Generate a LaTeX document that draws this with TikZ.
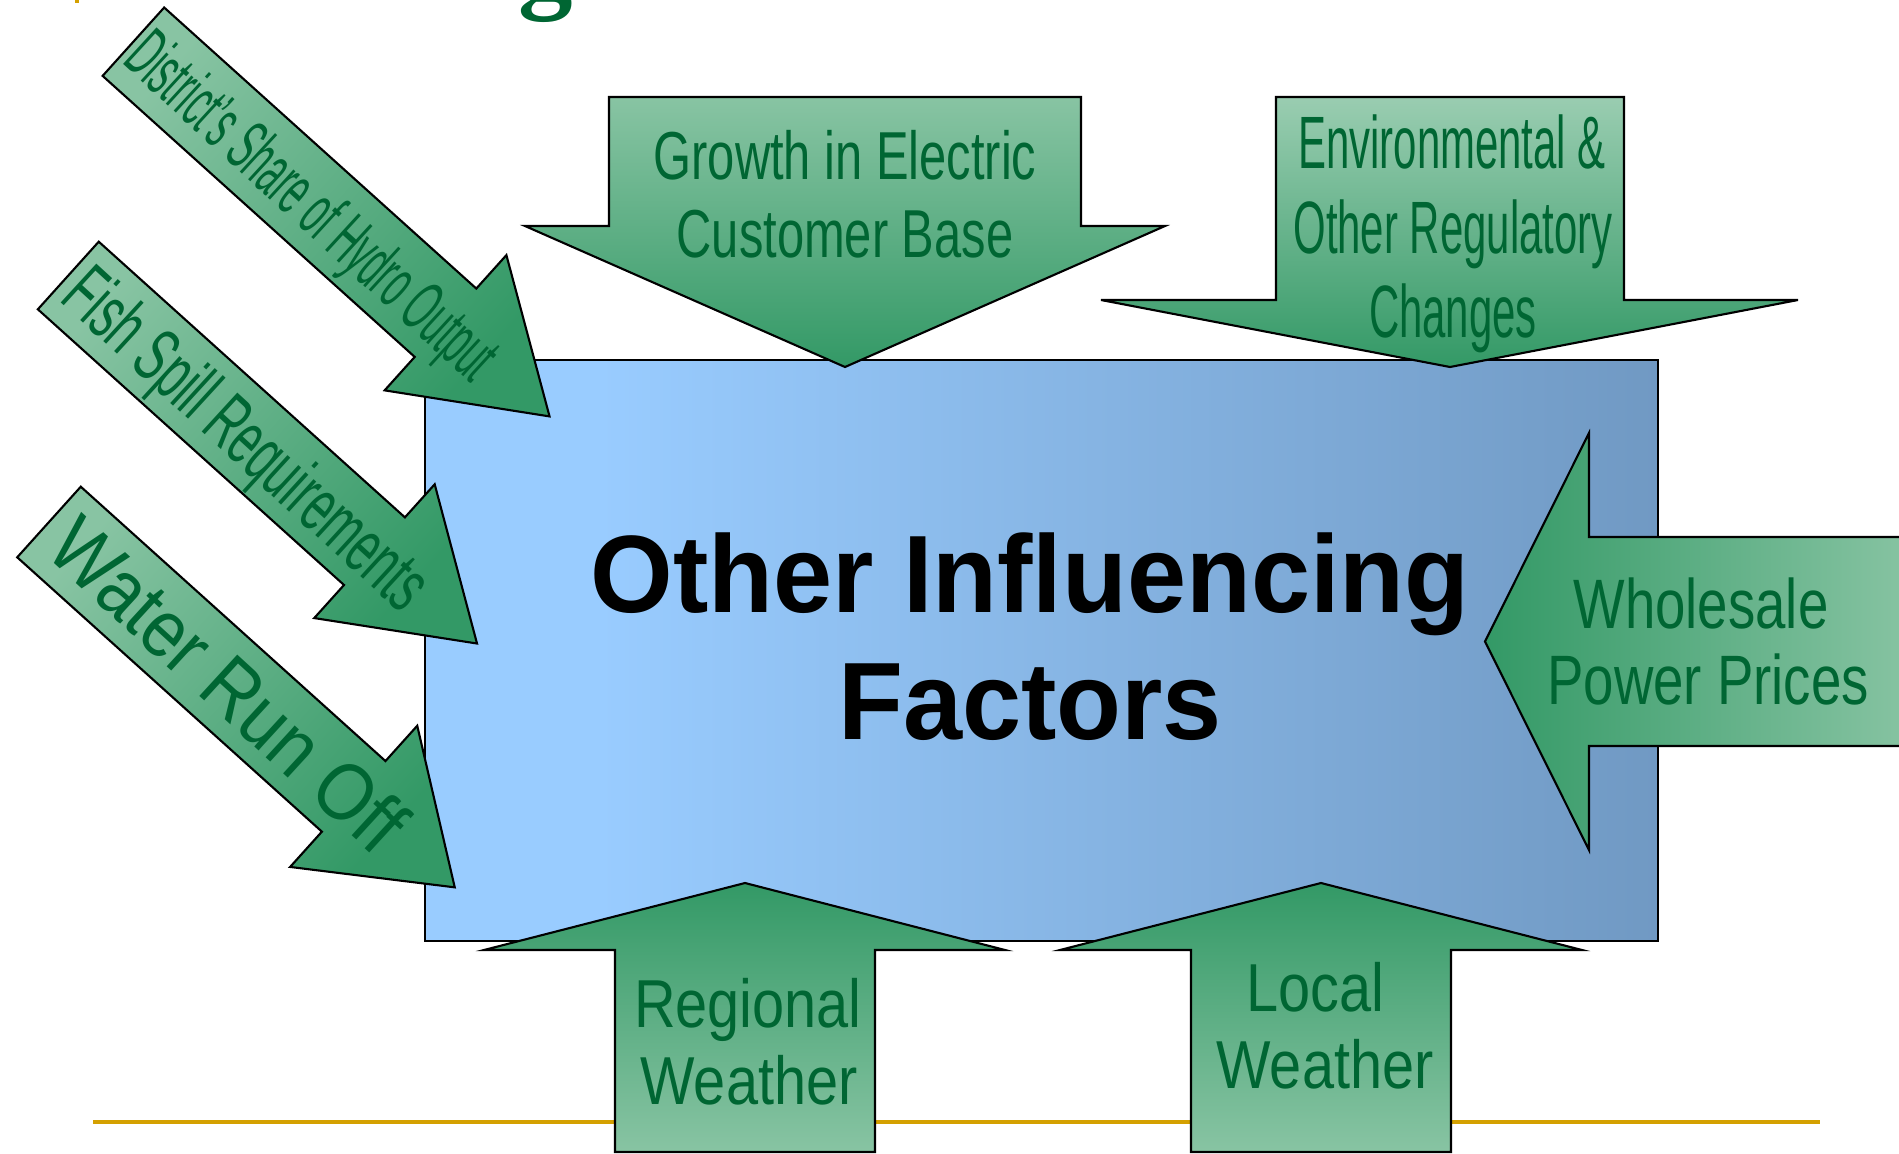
\documentclass[tikz,border=0pt]{standalone}
\usepackage{fontspec}
\setmainfont{Liberation Sans}
\newfontfamily\titleserif{Liberation Serif}
\usepackage{graphicx}
\definecolor{txtgreen}{RGB}{0,102,51}
\definecolor{arlight}{RGB}{136,196,163}
\definecolor{ardark}{RGB}{51,153,102}
\definecolor{goldline}{RGB}{212,160,0}
\pgfdeclarehorizontalshading{boxshade}{100bp}{rgb(0bp)=(0.6,0.8,1); rgb(32bp)=(0.6,0.8,1); rgb(75bp)=(0.44,0.6,0.765); rgb(100bp)=(0.44,0.6,0.765)}
\tikzset{
  arrowshape/.style={draw=black, line width=0.6pt, line join=miter},
  lbl/.style={text=txtgreen, inner sep=0pt, anchor=base},
  diaglbl/.style={text=txtgreen, inner sep=0pt, anchor=base, rotate=-42.5},
  diagshade/.style={top color=arlight, bottom color=ardark, shading angle=48},
}
\begin{document}
\begin{tikzpicture}[x=0.01cm, y=-0.01cm]
\useasboundingbox (0,0) rectangle (1899,1154);
\clip (0,0) rectangle (1899,1154);

% title remnants
\fill[goldline] (75,0) rectangle (79,3);
\node[anchor=base, text=txtgreen, inner sep=0pt, font=\titleserif\bfseries\fontsize{31}{36}\selectfont] (tg) at (546,-2) {g};

% central box
\shade[shading=boxshade, draw=black, line width=0.6pt] (425,360) rectangle (1658,941);
\node[anchor=base, inner sep=0pt, font=\bfseries\fontsize{31.3}{36}\selectfont] (m1) at (1030,612) {\scalebox{0.965}[1]{Other Influencing}};
\node[anchor=base, inner sep=0pt, font=\bfseries\fontsize{31.3}{36}\selectfont] (m2) at (1030,739) {\scalebox{0.965}[1]{Factors}};

% gold rule
\draw[goldline, line width=1.1pt] (93,1122) -- (1820,1122);

% Growth arrow (down)
\shade[arrowshape, top color=arlight, bottom color=ardark]
  (609,97) -- (1081,97) -- (1081,226) -- (1165,226) -- (845,367) -- (525,226) -- (609,226) -- cycle;
\node[lbl, font=\fontsize{19.3}{22}\selectfont] (ga) at (845,179) {\scalebox{0.72}[1]{Growth in Electric}};
\node[lbl, font=\fontsize{19.3}{22}\selectfont] (gb) at (845,257) {\scalebox{0.72}[1]{Customer Base}};

% Environmental arrow (down)
\shade[arrowshape, top color=arlight!85!white, bottom color=ardark]
  (1276,97) -- (1624,97) -- (1624,300) -- (1798,300) -- (1450,367) -- (1101,300) -- (1276,300) -- cycle;
\node[lbl, font=\fontsize{21.1}{24}\selectfont] (ea) at (1452,168) {\scalebox{0.565}[1]{Environmental \&}};
\node[lbl, font=\fontsize{21.1}{24}\selectfont] (eb) at (1453,253) {\scalebox{0.565}[1]{Other Regulatory}};
\node[lbl, font=\fontsize{21.1}{24}\selectfont] (ec) at (1453,337) {\scalebox{0.565}[1]{Changes}};

% Wholesale arrow (left)
\shade[arrowshape, left color=ardark, right color=arlight]
  (1485,641.5) -- (1589,433) -- (1589,537) -- (1915,537) -- (1915,746) -- (1589,746) -- (1589,850) -- cycle;
\node[lbl, font=\fontsize{19.9}{22}\selectfont] (wa) at (1701,628) {\scalebox{0.78}[1]{Wholesale}};
\node[lbl, font=\fontsize{19.9}{22}\selectfont] (wb) at (1708,704) {\scalebox{0.78}[1]{Power Prices}};

% Regional arrow (up)
\shade[arrowshape, top color=ardark, bottom color=arlight]
  (745,883) -- (1005,950) -- (875,950) -- (875,1152) -- (615,1152) -- (615,950) -- (484,950) -- cycle;
\node[lbl, font=\fontsize{19.3}{22}\selectfont] (ra) at (748,1027) {\scalebox{0.85}[1]{Regional}};
\node[lbl, font=\fontsize{19.3}{22}\selectfont] (rb) at (749,1104) {\scalebox{0.85}[1]{Weather}};

% Local arrow (up)
\shade[arrowshape, top color=ardark, bottom color=arlight]
  (1321,883) -- (1582,950) -- (1451,950) -- (1451,1152) -- (1191,1152) -- (1191,950) -- (1060,950) -- cycle;
\node[lbl, font=\fontsize{19.3}{22}\selectfont] (la) at (1315,1011) {\scalebox{0.85}[1]{Local}};
\node[lbl, font=\fontsize{19.3}{22}\selectfont] (lb) at (1325,1088) {\scalebox{0.85}[1]{Weather}};

% District's share arrow (diagonal)
\begin{scope}[shift={(133.4,41.7)}, rotate=-42]
\shade[arrowshape, diagshade]
  (0,-46) -- (420,-46) -- (420,-91) -- (560,0) -- (420,91) -- (420,46) -- (0,46) -- cycle;
\node[diaglbl, font=\fontsize{20.5}{24}\selectfont] (da) at (243,26) {\scalebox{0.47}[1]{District's Share of Hydro Output}};
\end{scope}

% Fish spill arrow (diagonal)
\begin{scope}[shift={(68.3,275.5)}, rotate=-42]
\shade[arrowshape, diagshade]
  (0,-45.5) -- (412,-45.5) -- (412,-90) -- (550,0) -- (412,90) -- (412,45.5) -- (0,45.5) -- cycle;
\node[diaglbl, font=\fontsize{21.8}{25}\selectfont] (fa) at (242,27) {\scalebox{0.575}[1]{Fish Spill Requirements}};
\end{scope}

% Water run off arrow (diagonal)
\begin{scope}[shift={(49,522)}, rotate=-42]
\shade[arrowshape, diagshade]
  (0,-47.5) -- (410,-47.5) -- (410,-95) -- (546,0) -- (410,95) -- (410,47.5) -- (0,47.5) -- cycle;
\node[diaglbl, font=\fontsize{23.2}{27}\selectfont] (wo) at (242,29) {\scalebox{0.87}[1]{Water Run Off}};
\end{scope}
\end{tikzpicture}
\end{document}
